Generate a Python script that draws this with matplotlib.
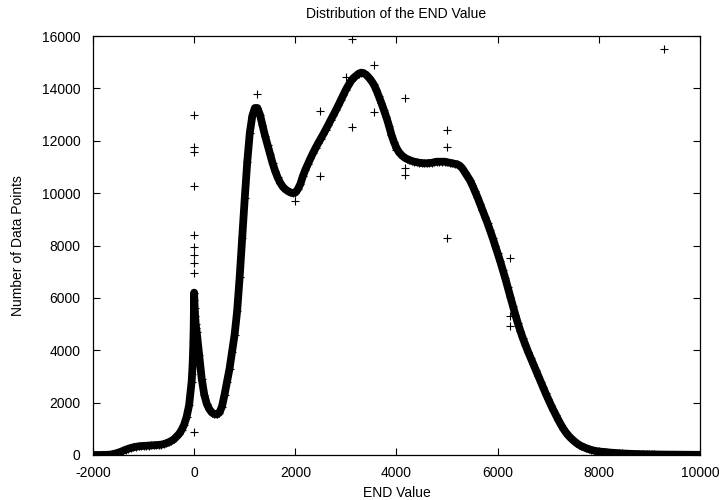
import numpy as np
import matplotlib
matplotlib.use('Agg')
import matplotlib.pyplot as plt

# histogram bins, 50 wide, from -2000 to 10000
bin_x = np.arange(-2000, 10001, 50)
counts = [
    0, 0, 0, 0, 5, 5, 10, 15, 40, 60,
    90, 125, 165, 205, 240, 270, 295, 315, 330, 340,
    348, 355, 360, 365, 370, 378, 385, 395, 420, 450,
    490, 540, 600, 700, 800, 950, 1150, 1450, 1900, 2800,
    6200, 4700, 3800, 2900, 2300, 1950, 1750, 1620, 1560, 1550,
    1620, 1850, 2300, 2800, 3300, 3950, 4600, 5500, 6800, 8300,
    9800, 11200, 12300, 12950, 13250, 13250, 13000, 12600, 12200, 11850,
    11500, 11150, 10850, 10600, 10400, 10250, 10150, 10080, 10030, 10000,
    10020, 10150, 10350, 10650, 10900, 11120, 11330, 11530, 11720, 11900,
    12070, 12240, 12420, 12600, 12790, 12970, 13160, 13350, 13550, 13750,
    13950, 14120, 14280, 14400, 14480, 14560, 14600, 14580, 14520, 14420,
    14300, 14150, 13950, 13700, 13450, 13180, 12900, 12580, 12230, 11950,
    11720, 11560, 11450, 11370, 11310, 11270, 11230, 11200, 11180, 11160,
    11150, 11140, 11140, 11150, 11160, 11180, 11200, 11200, 11200, 11200,
    11180, 11160, 11140, 11120, 11100, 11050, 10950, 10800, 10650, 10500,
    10300, 10080, 9850, 9600, 9350, 9100, 8850, 8580, 8300, 8000,
    7700, 7400, 7080, 6750, 6400, 6050, 5700, 5350, 5030, 4730,
    4450, 4200, 3950, 3720, 3480, 3250, 3020, 2800, 2580, 2350,
    2130, 1920, 1720, 1530, 1340, 1160, 1000, 860, 740, 640,
    550, 470, 400, 345, 300, 260, 225, 195, 170, 150,
    135, 125, 115, 105, 95, 88, 80, 73, 66, 60,
    55, 50, 46, 42, 39, 36, 33, 30, 28, 26,
    24, 22, 20, 19, 18, 17, 16, 15, 14, 13,
    12, 11, 10, 10, 9, 9, 8, 8, 7, 7,
    6,
]

# the narrow spike around zero
spike_x = [-40, -30, -20, -10, -5, 5, 10, 20, 30, 40]
spike_y = [3100, 3500, 4000, 4800, 5500, 5900, 5600, 5300, 5000, 4850]

# scattered points off the curve
out_x = [0, 0, 0, 0, 0, 0, 0, 0, 0, 0,
         1240, 1990, 2490, 2490, 3000, 3120, 3120, 3560, 3560, 3990,
         4170, 4170, 4170, 4990, 4990, 4990, 6240, 6240, 6240, 9280]
out_y = [12980, 11770, 11580, 10270, 8420, 7950, 7630, 7320, 6950, 880,
         13780, 9700, 13140, 10660, 14440, 15870, 12530, 14890, 13100, 11640,
         13650, 10950, 10700, 12400, 11770, 8300, 7510, 5300, 4920, 15490]

plt.rcParams['font.family'] = ['Liberation Sans', 'DejaVu Sans']
plt.rcParams['axes.unicode_minus'] = False

fig = plt.figure(figsize=(7.22, 5.0), dpi=100)
ax = fig.add_axes([0.1288, 0.09, 0.8407, 0.838])

# main curve with the spike merged in, drawn as a dense band of '+'
cx = np.concatenate([bin_x, spike_x])
cy = np.concatenate([counts, spike_y])
order = np.argsort(cx, kind='stable')
cx, cy = cx[order], cy[order]
ax.plot(cx, cy, color='black', linewidth=5.6, solid_capstyle='round', solid_joinstyle='round')

mk = dict(linestyle='none', marker='+', color='black', markersize=5.5, markeredgewidth=0.8)
ax.plot(cx, cy, **mk)
ax.plot(out_x, out_y, **mk)

ax.set_xlim(-2000, 10000)
ax.set_ylim(0, 16000)
ax.set_xticks(range(-2000, 10001, 2000))
ax.set_yticks(range(0, 16001, 2000))
ax.tick_params(direction='in', top=True, right=True, length=5, width=0.8, labelsize=10, pad=8)
ax.tick_params(axis='y', pad=9)
for s in ax.spines.values():
    s.set_linewidth(0.9)

ax.set_title('Distribution of the END Value', fontsize=10, pad=13)
ax.set_xlabel('END Value', fontsize=10, labelpad=4)
ax.set_ylabel('Number of Data Points', fontsize=10, labelpad=12)

fig.savefig('out.png', dpi=100)
